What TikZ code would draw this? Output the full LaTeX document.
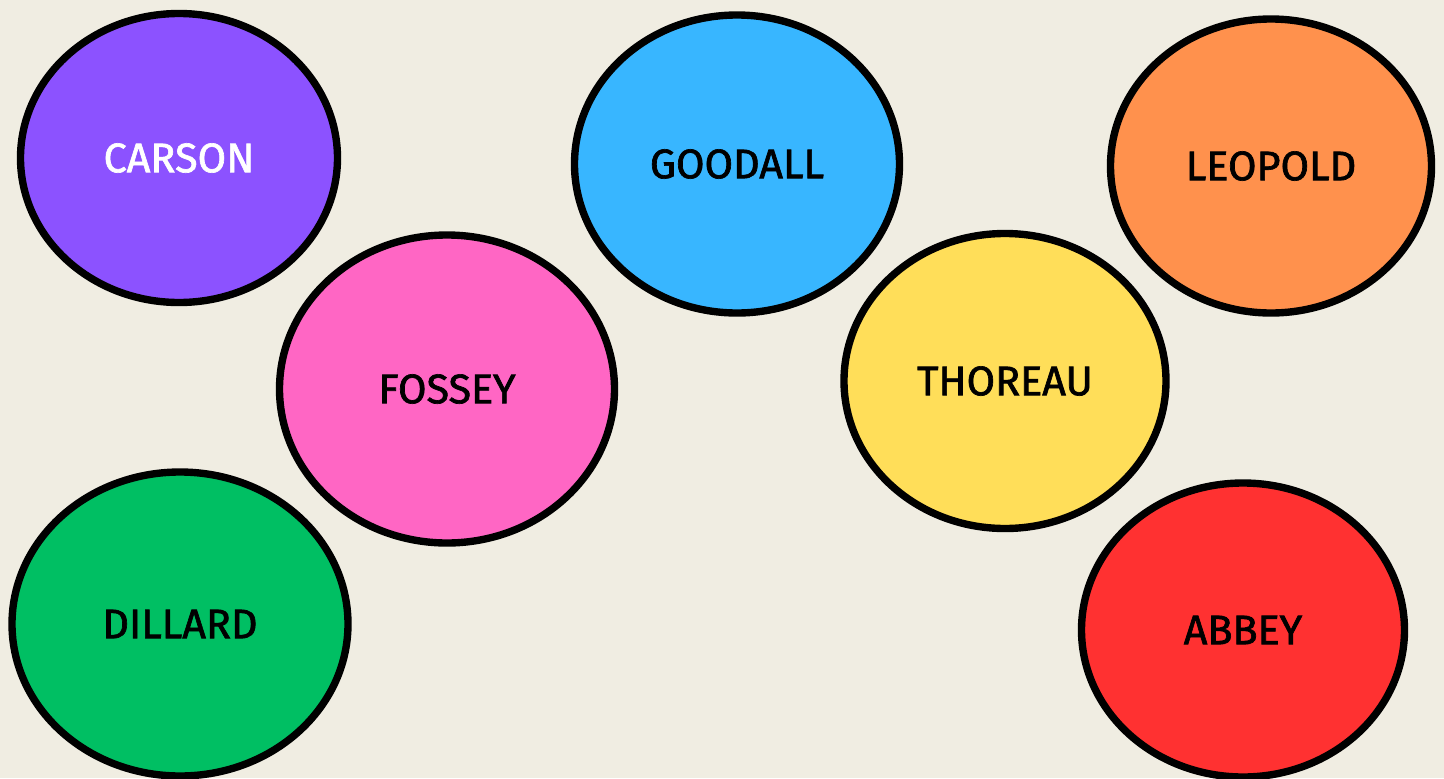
\documentclass[tikz,border=0pt]{standalone}
\usepackage{fontspec}
\newfontfamily\lblfont{Fira Sans}[FakeBold=1.6]
\usetikzlibrary{shapes.geometric}
\definecolor{bg}{HTML}{F0EDE2}
\definecolor{cpurple}{HTML}{8C52FF}
\definecolor{cblue}{HTML}{38B6FF}
\definecolor{corange}{HTML}{FF914D}
\definecolor{cpink}{HTML}{FF66C4}
\definecolor{cyellow}{HTML}{FFDE59}
\definecolor{cgreen}{HTML}{00BF63}
\definecolor{cred}{HTML}{FF3131}
\tikzset{
  blob/.style={ellipse, draw=black, line width=4.2pt, inner sep=0pt,
    font=\lblfont\fontsize{23.5}{28}\selectfont, text=black},
}
\begin{document}
\begin{tikzpicture}[x=0.02cm,y=-0.02cm]
\fill[bg] (0,0) rectangle (1444,778);
\useasboundingbox (0,0) rectangle (1444,778);
\node[blob, fill=cpurple, text=white, minimum width=317*0.02cm, minimum height=289*0.02cm] (carson) at (179,158) {CARSON};
\node[blob, fill=cblue, minimum width=325*0.02cm, minimum height=298*0.02cm] (goodall) at (737,164) {GOODALL};
\node[blob, fill=corange, minimum width=321*0.02cm, minimum height=294*0.02cm] (leopold) at (1271,166) {LEOPOLD};
\node[blob, fill=cpink, minimum width=335*0.02cm, minimum height=308*0.02cm] (fossey) at (447,389) {FOSSEY};
\node[blob, fill=cyellow, minimum width=322*0.02cm, minimum height=295*0.02cm] (thoreau) at (1005,381) {THOREAU};
\node[blob, fill=cgreen, minimum width=336*0.02cm, minimum height=304*0.02cm] (dillard) at (180,624) {DILLARD};
\node[blob, fill=cred, minimum width=323*0.02cm, minimum height=294*0.02cm] (abbey) at (1243,630) {ABBEY};
\end{tikzpicture}
\end{document}
